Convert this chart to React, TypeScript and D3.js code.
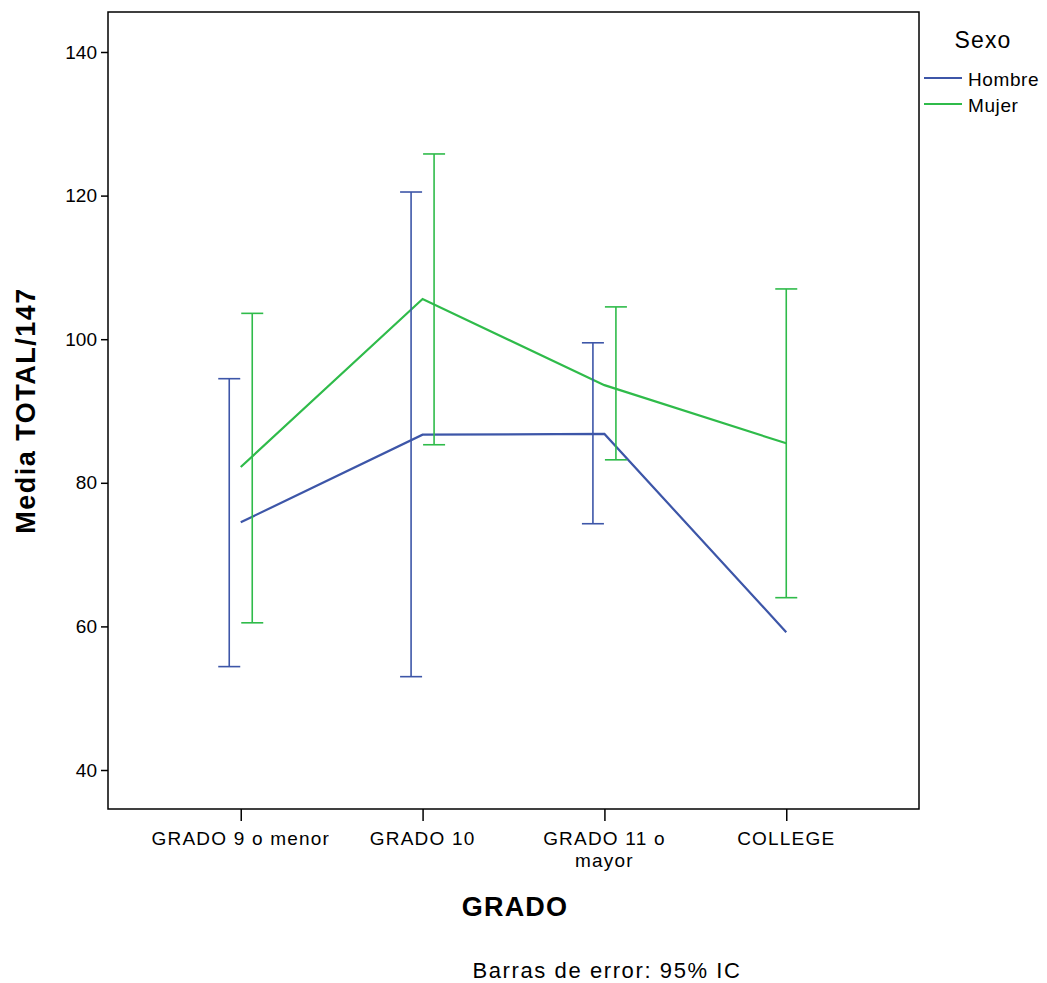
import React, { useEffect, useRef } from 'react';
import * as d3 from 'd3';

// categories on the x axis (second label line after \n)
const grados = ['GRADO 9 o menor', 'GRADO 10', 'GRADO 11 o\nmayor', 'COLLEGE'];
const sexos = ['Hombre', 'Mujer'];
const colores = ['#3d56a8', '#2fbb4a'];

// means and 95% CI (null = no interval)
const hombreMedia = [74.5, 86.7, 86.8, 59.2];
const hombreBajo = [54.4, 53.0, 74.3, null];
const hombreAlto = [94.5, 120.5, 99.5, null];

const mujerMedia = [82.2, 105.6, 93.6, 85.5];
const mujerBajo = [60.5, 85.3, 83.2, 64.0];
const mujerAlto = [103.6, 125.8, 104.5, 107.0];

const yTicks = [40, 60, 80, 100, 120, 140];

const W = 1047, H = 983;
const left = 108, right = 919, top = 12, bottom = 809;
const font = '"Liberation Sans", Arial, sans-serif';

const App = () => {
  const ref = useRef<SVGSVGElement>(null);

  useEffect(() => {
    const svg = d3.select(ref.current);
    svg.selectAll('*').remove();

    const x = d3.scalePoint().domain(grados).range([left, right]).padding(0.73);
    const y = d3.scaleLinear().domain([40, 140]).range([770, 52]);

    const series = [
      { name: sexos[0], media: hombreMedia, lo: hombreBajo, hi: hombreAlto, color: colores[0], dodge: -11.5 },
      { name: sexos[1], media: mujerMedia, lo: mujerBajo, hi: mujerAlto, color: colores[1], dodge: 11.5 },
    ];

    // frame
    svg.append('rect')
      .attr('x', left).attr('y', top)
      .attr('width', right - left).attr('height', bottom - top)
      .attr('fill', 'none').attr('stroke', '#000').attr('stroke-width', 1.5);

    // y axis
    const yAxis = svg.append('g')
      .attr('transform', `translate(${left},0)`)
      .call(d3.axisLeft(y).tickValues(yTicks).tickSize(7).tickPadding(4))
    yAxis.select('.domain').remove()
    yAxis.selectAll('line').attr('stroke', '#000').attr('stroke-width', 1.5)
    yAxis.selectAll('text')
      .attr('font-family', font)
      .attr('font-size', 19).attr('fill', '#000')

    // x axis
    const xAxis = svg.append('g')
      .attr('transform', `translate(0,${bottom})`)
      .call(d3.axisBottom(x).tickSize(12).tickFormat(() => ''))
    xAxis.select('.domain').remove()
    xAxis.selectAll('line').attr('stroke', '#000').attr('stroke-width', 1.5)

    grados.forEach(g => {
      const t = svg.append('text')
        .attr('x', x(g)!).attr('y', 845)
        .attr('text-anchor', 'middle')
        .attr('font-family', font)
        .attr('font-size', 19).attr('letter-spacing', 1.2)
      g.split('\n').forEach((ln, i) => {
        t.append('tspan').attr('x', x(g)!).attr('dy', i === 0 ? 0 : 22).text(ln)
      })
    })

    // lines
    const line = d3.line<number>()
      .x((d, i) => x(grados[i])!)
      .y(d => y(d))

    series.forEach(s => {
      svg.append('path')
        .datum(s.media)
        .attr('d', line)
        .attr('fill', 'none')
        .attr('stroke', s.color)
        .attr('stroke-width', 2.2)
    })

    // error bars; dodge only where both groups have an interval
    series.forEach(s => {
      const g = svg.append('g').attr('stroke', s.color).attr('stroke-width', 1.6)
      grados.forEach((c, i) => {
        const lo = s.lo[i], hi = s.hi[i];
        if (lo == null || hi == null) return;
        const both = series.every(o => o.lo[i] != null);
        const cx = x(c)! + (both ? s.dodge : 0);
        g.append('line').attr('x1', cx).attr('x2', cx).attr('y1', y(lo)).attr('y2', y(hi));
        g.append('line').attr('x1', cx - 11).attr('x2', cx + 11).attr('y1', y(lo)).attr('y2', y(lo));
        g.append('line').attr('x1', cx - 11).attr('x2', cx + 11).attr('y1', y(hi)).attr('y2', y(hi));
      })
    })

    // axis titles
    svg.append('text')
      .attr('transform', `translate(35,${(top + bottom) / 2}) rotate(-90)`)
      .attr('text-anchor', 'middle')
      .attr('font-family', font)
      .attr('font-weight', 'bold').attr('font-size', 27).attr('letter-spacing', 1.5)
      .text('Media TOTAL/147')

    svg.append('text')
      .attr('x', 515).attr('y', 916)
      .attr('text-anchor', 'middle')
      .attr('font-family', font)
      .attr('font-weight', 'bold').attr('font-size', 27).attr('letter-spacing', 1.2)
      .text('GRADO')

    svg.append('text')
      .attr('x', 607).attr('y', 978)
      .attr('text-anchor', 'middle')
      .attr('font-family', font)
      .attr('font-size', 22).attr('letter-spacing', 1.6)
      .text('Barras de error: 95% IC')

    // legend
    svg.append('text')
      .attr('x', 983).attr('y', 48)
      .attr('text-anchor', 'middle')
      .attr('font-family', font)
      .attr('font-size', 23).attr('letter-spacing', 1.2)
      .text('Sexo')

    series.forEach((s, i) => {
      const ly = 78 + i * 26;
      svg.append('line')
        .attr('x1', 924).attr('x2', 962).attr('y1', ly).attr('y2', ly)
        .attr('stroke', s.color).attr('stroke-width', 2)
      svg.append('text')
        .attr('x', 968).attr('y', ly + 8)
        .attr('font-family', font)
        .attr('font-size', 19).attr('letter-spacing', 0.6)
        .text(s.name)
    })
  }, [])

  return (
    <svg ref={ref} width={W} height={H}
      style={{ position: 'absolute', left: 0, top: 0, background: '#fff' }} />
  )
}

export default App;
